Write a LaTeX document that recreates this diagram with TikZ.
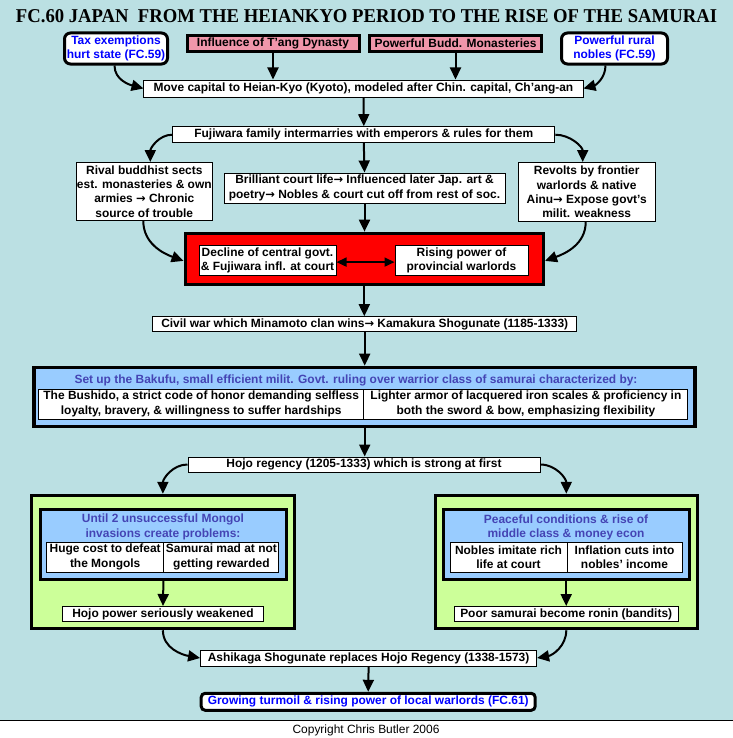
\documentclass[tikz,border=0pt]{standalone}
\usepackage{fontspec}
\setmainfont{Liberation Sans}
\newfontfamily\titlefont{Liberation Serif}
\newfontfamily\symfont{DejaVu Sans}
\newcommand\rarr{{\symfont\bfseries\fontsize{11.5}{12}\selectfont →}}
\usetikzlibrary{arrows.meta}
\definecolor{bg}{RGB}{187,224,227}
\definecolor{pinkbox}{RGB}{240,150,170}
\definecolor{bluebox}{RGB}{153,204,255}
\definecolor{greenbox}{RGB}{204,255,153}
\definecolor{slate}{RGB}{68,68,180}
\definecolor{linkblue}{RGB}{0,0,255}
\begin{document}
\begin{tikzpicture}[x=1bp,y=-1bp,
  txt/.style={font=\bfseries\fontsize{12}{14.5}\selectfont, align=center, inner sep=0pt},
  wbox/.style={txt, draw, line width=1bp, fill=white},
  pbox/.style={txt, draw, line width=3bp, fill=pinkbox},
  rbox/.style={txt, draw, line width=3bp, fill=white, rounded corners=6bp, text=linkblue},
  frame/.style={draw, line width=3.5bp, inner sep=0pt},
  arr/.style={line width=2bp, -{Triangle[length=12bp,width=11bp]}},
  darr/.style={line width=1.6bp, {Triangle[length=10bp,width=9bp]}-{Triangle[length=10bp,width=9bp]}},
]
\useasboundingbox (0,0) rectangle (733,738);
\fill[bg] (0,0) rectangle (733,720);
\fill[white] (0,720) rectangle (733,738);
\draw[line width=1bp] (0,720) -- (733,720);

% title
\node[inner sep=0pt, anchor=base] (title) at (366.5,22.7)
  {\resizebox{701bp}{13bp}{\titlefont\bfseries FC.60 JAPAN\ \ FROM THE HEIANKYO PERIOD TO THE RISE OF THE SAMURAI}};

% top row
\node[rbox, minimum width=103bp, minimum height=31bp] (tax) at (116,48.5) {Tax exemptions\\hurt state (FC.59)};
\node[pbox, minimum width=172bp, minimum height=16bp] (tang) at (273,43.5) {Influence of T’ang Dynasty};
\node[pbox, minimum width=172bp, minimum height=16bp] (budd) at (455.5,43.5) {Powerful Budd. Monasteries};
\node[rbox, minimum width=106bp, minimum height=31bp] (nobles) at (614.5,48.5) {Powerful rural\\nobles (FC.59)};
\node[wbox, minimum width=439bp, minimum height=17bp] (move) at (363.5,88.5) {Move capital to Heian-Kyo (Kyoto), modeled after Chin. capital, Ch’ang-an};

\node[wbox, minimum width=382bp, minimum height=16bp] (fuji) at (363.8,134.7) {Fujiwara family intermarries with emperors \& rules for them};
\node[wbox, minimum width=136bp, minimum height=58bp] (rival) at (144.3,191.5) {Rival buddhist sects\\est. monasteries \& own\\armies \rarr{} Chronic\\source of trouble};
\node[wbox, minimum width=281bp, minimum height=30bp] (court) at (364.5,188) {Brilliant court life\rarr{} Influenced later Jap. art \&\\poetry\rarr{} Nobles \& court cut off from rest of soc.};
\node[wbox, minimum width=137bp, minimum height=59bp] (revolts) at (586.7,192) {Revolts by frontier\\warlords \& native\\Ainu\rarr{} Expose govt’s\\milit. weakness};

% red frame
\node[frame, fill=red, minimum width=358bp, minimum height=51bp] (red) at (364.3,258.9) {};
\node[wbox, minimum width=137bp, minimum height=30bp] (decline) at (267.5,260.6) {Decline of central govt.\\\& Fujiwara infl. at court};
\node[wbox, minimum width=133bp, minimum height=30bp] (rising) at (461.5,260.2) {Rising power of\\provincial warlords};

\node[wbox, minimum width=424bp, minimum height=15bp] (civil) at (364.7,324.2) {Civil war which Minamoto clan wins\rarr{} Kamakura Shogunate (1185-1333)};

% bakufu
\node[frame, fill=bluebox, minimum width=661bp, minimum height=59bp] (bakufu) at (364.7,396.9) {};
\node[txt, text=slate] (baktitle) at (356,380) {Set up the Bakufu, small efficient milit. Govt. ruling over warrior class of samurai characterized by:};
\node[wbox, minimum width=325bp, minimum height=30bp] (bushido) at (201.2,404) {The Bushido, a strict code of honor demanding selfless\\loyalty, bravery, \& willingness to suffer hardships};
\node[wbox, minimum width=324bp, minimum height=30bp] (armor) at (525.9,404) {Lighter armor of lacquered iron scales \& proficiency in\\both the sword \& bow, emphasizing flexibility};

\node[wbox, minimum width=352bp, minimum height=15bp] (hojo) at (364,464.5) {Hojo regency (1205-1333) which is strong at first};

% left green
\node[frame, fill=greenbox, minimum width=263bp, minimum height=133bp] (lgreen) at (162.9,562) {};
\node[frame, line width=3bp, fill=bluebox, minimum width=246bp, minimum height=70bp] (lblue) at (163.4,544.2) {};
\node[txt, text=slate] (mongol) at (163,527) {Until 2 unsuccessful Mongol\\invasions create problems:};
\node[wbox, minimum width=117bp, minimum height=30bp] (huge) at (105.2,557) {Huge cost to defeat\\the Mongols};
\node[wbox, minimum width=115bp, minimum height=30bp] (mad) at (221.4,557) {Samurai mad at not\\getting rewarded};
\node[wbox, minimum width=200bp, minimum height=15bp] (hpower) at (163,614) {Hojo power seriously weakened};

% right green
\node[frame, fill=greenbox, minimum width=262bp, minimum height=133bp] (rgreen) at (566.3,562) {};
\node[frame, line width=3bp, fill=bluebox, minimum width=246bp, minimum height=70bp] (rblue) at (566.2,544.5) {};
\node[txt, text=slate] (peace) at (566,527.3) {Peaceful conditions \& rise of\\middle class \& money econ};
\node[wbox, minimum width=117bp, minimum height=30bp] (imitate) at (508.5,557) {Nobles imitate rich\\life at court};
\node[wbox, minimum width=115bp, minimum height=30bp] (inflation) at (624.5,557) {Inflation cuts into\\nobles’ income};
\node[wbox, minimum width=224bp, minimum height=15bp] (poor) at (566.2,614) {Poor samurai become ronin (bandits)};

\node[wbox, minimum width=336bp, minimum height=16bp] (ashikaga) at (368.6,658) {Ashikaga Shogunate replaces Hojo Regency (1338-1573)};
\node[rbox, rounded corners=4bp, minimum width=334bp, minimum height=17bp] (growing) at (368.2,701.8) {Growing turmoil \& rising power of local warlords (FC.61)};

\node[inner sep=0pt, anchor=base, font=\fontsize{12}{14}\selectfont] (copy) at (366,733) {Copyright Chris Butler 2006};

% arrows
\draw[arr] ([xshift=-1.5bp]tax.south) to[out=-90,in=165] (move.west);
\draw[arr] (tang.south) -- (move.north -| tang.south);
\draw[arr] (budd.south) -- (move.north -| budd.south);
\draw[arr] ([xshift=-9bp]nobles.south) to[out=-90,in=15] (move.east);
\draw[arr] (move.south) -- (fuji.north);
\draw[arr] (fuji.west) to[out=180,in=90] ([xshift=6bp]rival.north);
\draw[arr] (fuji.east) to[out=0,in=90] ([xshift=-4bp]revolts.north);
\draw[arr] (fuji.south) -- (court.north);
\draw[arr] (court.south) -- (red.north -| court.south);
\draw[arr] ([xshift=-1bp]rival.south) to[out=-90,in=160] ([yshift=-2bp]red.west);
\draw[arr] ([xshift=-1bp]revolts.south) to[out=-90,in=20] ([yshift=-2bp]red.east);
\draw[darr] ([yshift=-1.5bp]decline.east) -- ([yshift=-1.5bp]decline.east -| rising.west);
\draw[arr] (red.south) -- (civil.north -| red.south);
\draw[arr] (civil.south) -- (bakufu.north -| civil.south);
\draw[arr] (bakufu.south) -- (hojo.north -| bakufu.south);
\draw[arr] (hojo.west) to[out=180,in=90] (lgreen.north);
\draw[arr] (hojo.east) to[out=0,in=90] (rgreen.north);
\draw[arr] (lblue.south) -- (hpower.north);
\draw[arr] (rblue.south) -- (poor.north);
\draw[arr] (lgreen.south) to[out=-90,in=170] (ashikaga.west);
\draw[arr] (rgreen.south) to[out=-90,in=10] (ashikaga.east);
\draw[arr] (ashikaga.south) -- (growing.north);
\end{tikzpicture}
\end{document}
